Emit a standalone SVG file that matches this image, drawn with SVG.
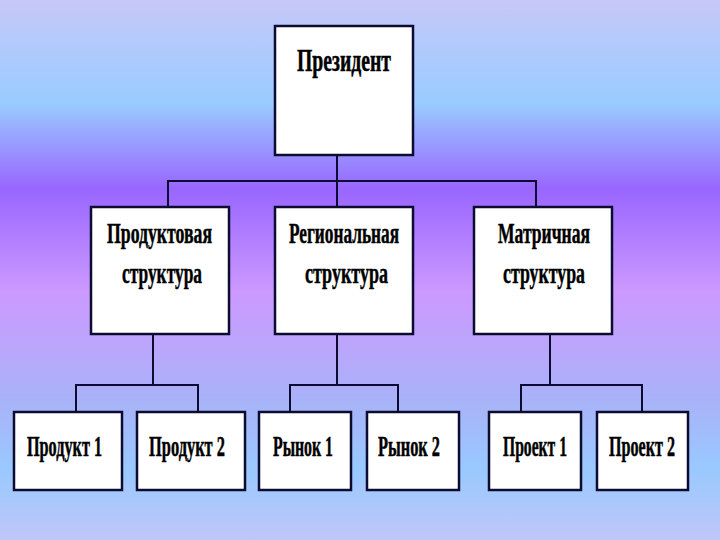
<svg xmlns="http://www.w3.org/2000/svg" width="720" height="540" viewBox="0 0 720 540">
<defs>
<linearGradient id="bg" x1="0" y1="0" x2="0" y2="1">
<stop offset="0" stop-color="#c6c8f8"/>
<stop offset="0.19" stop-color="#99ccff"/>
<stop offset="0.35" stop-color="#9966ff"/>
<stop offset="0.54" stop-color="#cc99ff"/>
<stop offset="0.74" stop-color="#a9b2f8"/>
<stop offset="0.87" stop-color="#99c9ff"/>
<stop offset="1" stop-color="#c0c6f8"/>
</linearGradient>
<style>
.box{fill:#ffffff;stroke:#0c0c33;stroke-width:2.5}
.t{font-family:"Liberation Serif","Times New Roman",serif;font-weight:bold;font-size:20px;fill:#000;stroke:#000;stroke-width:0.35}
.t1{font-size:22px}
.t2{font-size:21px}
.c{fill:none;stroke:#0c0c33;stroke-width:2}
</style>
</defs>
<rect x="0" y="0" width="720" height="540" fill="url(#bg)"/>
<g id="connectors">
<path class="c" d="M337,155V181M168,207V181H536V207M337,181V207"/>
<path class="c" d="M153,334V385M76,412V385H198V412"/>
<path class="c" d="M337,334V385M290,412V385H398V412"/>
<path class="c" d="M550,334V385M521,412V385H642V412"/>
</g>
<g id="president">
<rect class="box" x="275" y="26" width="138" height="129"/>
<text class="t t1" transform="translate(297,71) scale(1,1.45)" textLength="94" lengthAdjust="spacingAndGlyphs">Президент</text>
</g>
<g id="product-structure">
<rect class="box" x="91" y="207" width="138" height="127"/>
<text class="t t2" transform="translate(107,243) scale(1,1.45)" textLength="105" lengthAdjust="spacingAndGlyphs">Продуктовая</text>
<text class="t t2" transform="translate(122,283) scale(1,1.45)" textLength="80" lengthAdjust="spacingAndGlyphs">структура</text>
</g>
<g id="regional-structure">
<rect class="box" x="275" y="207" width="138" height="127"/>
<text class="t t2" transform="translate(289,243) scale(1,1.45)" textLength="110" lengthAdjust="spacingAndGlyphs">Региональная</text>
<text class="t t2" transform="translate(305,283) scale(1,1.45)" textLength="83" lengthAdjust="spacingAndGlyphs">структура</text>
</g>
<g id="matrix-structure">
<rect class="box" x="474" y="207" width="138" height="127"/>
<text class="t t2" transform="translate(498,243) scale(1,1.45)" textLength="92" lengthAdjust="spacingAndGlyphs">Матричная</text>
<text class="t t2" transform="translate(503,283) scale(1,1.45)" textLength="82" lengthAdjust="spacingAndGlyphs">структура</text>
</g>
<g id="product1">
<rect class="box" x="14" y="412" width="108" height="78"/>
<text class="t" transform="translate(27,456) scale(1,1.45)" textLength="75" lengthAdjust="spacingAndGlyphs">Продукт 1</text>
</g>
<g id="product2">
<rect class="box" x="137" y="412" width="108" height="78"/>
<text class="t" transform="translate(149,456) scale(1,1.45)" textLength="76" lengthAdjust="spacingAndGlyphs">Продукт 2</text>
</g>
<g id="market1">
<rect class="box" x="259" y="412" width="92" height="78"/>
<text class="t" transform="translate(273,456) scale(1,1.45)" textLength="60" lengthAdjust="spacingAndGlyphs">Рынок 1</text>
</g>
<g id="market2">
<rect class="box" x="367" y="412" width="92" height="78"/>
<text class="t" transform="translate(378,456) scale(1,1.45)" textLength="62" lengthAdjust="spacingAndGlyphs">Рынок 2</text>
</g>
<g id="project1">
<rect class="box" x="489" y="412" width="92" height="78"/>
<text class="t" transform="translate(503,456) scale(1,1.45)" textLength="64" lengthAdjust="spacingAndGlyphs">Проект 1</text>
</g>
<g id="project2">
<rect class="box" x="597" y="412" width="91" height="78"/>
<text class="t" transform="translate(609,456) scale(1,1.45)" textLength="66" lengthAdjust="spacingAndGlyphs">Проект 2</text>
</g>
</svg>
